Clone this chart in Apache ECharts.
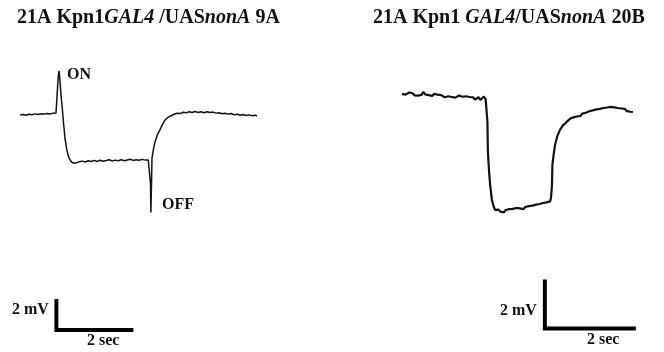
<!DOCTYPE html>
<html>
<head>
<meta charset="utf-8">
<script src="https://cdn.jsdelivr.net/npm/echarts@6/dist/echarts.min.js"></script>
<style>html,body{margin:0;padding:0;background:#fff}#c{width:664px;height:352px}</style>
</head>
<body>
<div id="c"></div>
<script>
// ---- Data (time in s, voltage in mV) ----
// Panel A: 21A Kpn1GAL4/UASnonA 9A
const leftT = [0,0.08,0.16,0.24,0.32,0.40,0.48,0.56,0.64,0.72,0.80,0.88,0.96,
  0.99,1.02,1.04,1.06,1.09,1.12,1.16,1.20,1.24,1.28,1.33,1.38,1.44,1.50,
  1.58,1.66,1.74,1.82,1.90,1.98,2.06,2.14,2.22,2.30,2.38,2.46,2.54,2.62,2.70,2.78,2.86,2.94,3.02,3.10,3.18,3.26,3.34,3.42,3.46,
  3.48,3.49,3.505,3.52,3.56,3.60,3.66,3.73,3.80,3.87,3.95,4.03,4.11,4.19,4.27,4.35,4.43,4.51,4.59,4.67,4.75,4.83,4.91,4.99,
  5.07,5.15,5.23,5.31,5.39,5.47,5.55,5.63,5.71,5.79,5.87,5.95,6.03,6.11,6.19,6.27,6.32];
const leftV = [-0.07,-0.03,-0.08,-0.02,-0.05,0.01,-0.04,0.02,-0.01,0.04,0.00,0.06,0.07,
  0.20,2.60,2.97,2.50,1.40,0.60,-0.60,-1.66,-2.35,-2.83,-3.15,-3.33,-3.40,-3.36,
  -3.30,-3.25,-3.31,-3.22,-3.28,-3.20,-3.27,-3.19,-3.26,-3.21,-3.15,-3.24,-3.18,-3.23,-3.16,-3.22,-3.17,-3.12,-3.20,-3.15,-3.19,-3.13,-3.18,-3.17,-3.20,
  -4.80,-6.80,-5.00,-3.03,-2.40,-1.93,-1.45,-1.10,-0.72,-0.41,-0.22,-0.12,-0.02,0.05,0.03,0.12,0.08,0.16,0.11,0.17,0.10,0.15,0.09,0.16,
  0.10,0.13,0.06,0.09,0.02,0.05,-0.01,0.03,-0.05,-0.02,-0.08,-0.03,-0.10,-0.06,-0.12,-0.09,-0.14];

// Panel B: 21A Kpn1GAL4/UASnonA 20B
const rightT = [0.00,0.04,0.08,0.12,0.16,0.20,0.24,0.28,0.32,0.36,0.40,0.44,0.48,0.52,0.56,0.60,0.64,0.68,0.72,0.76,0.80,0.84,0.88,0.92,0.96,
  1.00,1.04,1.08,1.12,1.16,1.20,1.24,1.28,1.32,1.36,1.40,1.44,1.48,1.52,1.56,1.60,1.64,1.68,1.72,1.76,1.80,1.84,1.88,1.90,
  1.92,1.93,1.96,1.98,2.02,2.06,
  2.09,2.13,2.17,2.21,2.25,2.29,2.33,2.37,2.41,2.45,2.49,2.53,2.57,2.61,2.65,2.69,2.73,2.77,2.81,2.85,2.89,2.93,2.97,3.01,3.05,3.09,3.13,3.17,3.21,3.25,3.29,3.33,
  3.35,3.37,3.38,3.41,3.44,3.49,3.55,3.62,3.67,3.71,3.75,3.79,3.83,3.87,3.90,
  3.93,3.97,4.01,4.05,4.09,4.13,4.17,4.21,4.25,4.29,4.33,4.37,4.41,4.45,4.49,4.53,4.57,4.61,4.65,4.69,4.73,4.77,4.81,4.85,4.89,4.93,4.97,5.01,5.05,5.09,5.13,5.17,5.19];
const rightV = [0.00,0.05,-0.03,0.02,0.06,-0.01,0.03,-0.06,-0.02,-0.07,0.01,-0.04,0.09,-0.02,0.04,-0.05,-0.01,-0.09,0.00,-0.06,-0.03,-0.11,-0.05,-0.08,-0.14,
  -0.06,-0.10,-0.04,-0.13,-0.09,-0.16,-0.11,-0.07,-0.15,-0.12,-0.19,-0.10,-0.17,-0.13,-0.21,-0.15,-0.24,-0.18,-0.14,-0.26,-0.19,-0.11,-0.23,-0.20,
  -1.20,-2.47,-3.40,-3.87,-4.51,-4.80,
  -4.94,-5.00,-4.93,-5.02,-4.97,-5.05,-4.95,-4.99,-4.91,-4.98,-4.90,-4.95,-4.86,-4.93,-4.88,-4.84,-4.91,-4.82,-4.87,-4.78,-4.84,-4.76,-4.81,-4.72,-4.78,-4.69,-4.74,-4.65,-4.71,-4.62,-4.67,-4.58,
  -4.40,-3.87,-3.02,-2.55,-2.17,-1.80,-1.53,-1.33,-1.26,-1.17,-1.12,-1.04,-1.08,-0.99,-1.01,
  -0.96,-0.91,-0.94,-0.84,-0.88,-0.80,-0.85,-0.74,-0.79,-0.70,-0.75,-0.66,-0.72,-0.64,-0.69,-0.60,-0.67,-0.58,-0.64,-0.55,-0.62,-0.57,-0.65,-0.60,-0.68,-0.62,-0.70,-0.64,-0.73,-0.68,-0.76,-0.72,-0.77];

// Scale bars: [time, mV] corner path (2 mV vertical, 2 s horizontal)
const leftScaleT = [0.97, 0.97, 2.97];
const leftScaleV = [-12.9, -14.9, -14.9];
const rightScaleT = [3.21, 3.21, 5.21];
const rightScaleV = [-8.0, -10.0, -10.0];

const titles = ['21A Kpn1{i|GAL4} /UAS{i|nonA} 9A', '21A Kpn1 {i|GAL4}/UAS{i|nonA} 20B'];
const scaleLabels = ['2 mV', '2 sec'];

const zip = (a, b) => a.map((x, i) => [x, b[i]]);

const chart = echarts.init(document.getElementById('c'), null, {renderer: 'canvas'});
const serif = '"Liberation Serif","Times New Roman",serif';
const tStyle = {
  fontFamily: serif, fontWeight: 'bold', fontSize: 20, color: '#111',
  rich: { i: { fontFamily: serif, fontWeight: 'bold', fontStyle: 'italic', fontSize: 20, color: '#111' } }
};
const lbl = (text, x, y) => ({
  type: 'text', left: x, top: y,
  style: { text, font: 'bold 16px ' + serif, fill: '#111' }
});

chart.setOption({
  animation: false,
  backgroundColor: '#fff',
  title: [
    { text: titles[0], left: 17, top: 8, textStyle: tStyle, padding: 0 },
    { text: titles[1], left: 373, top: 8, textStyle: tStyle, padding: 0 }
  ],
  grid: [
    { left: 20, top: 56, width: 240, height: 290 },
    { left: 402, top: 47, width: 240.3, height: 305.5 }
  ],
  xAxis: [
    { type: 'value', gridIndex: 0, min: 0, max: 6.4, show: false },
    { type: 'value', gridIndex: 1, min: 0, max: 5.4, show: false }
  ],
  yAxis: [
    { type: 'value', gridIndex: 0, min: -16, max: 4, show: false },
    { type: 'value', gridIndex: 1, min: -11, max: 2, show: false }
  ],
  series: [
    { type: 'line', xAxisIndex: 0, yAxisIndex: 0, data: zip(leftT, leftV), showSymbol: false, symbol: 'none',
      lineStyle: { color: '#111', width: 1.5 } },
    { type: 'line', xAxisIndex: 1, yAxisIndex: 1, data: zip(rightT, rightV), showSymbol: false, symbol: 'none',
      lineStyle: { color: '#111', width: 2.2 } },
    { type: 'line', xAxisIndex: 0, yAxisIndex: 0, data: zip(leftScaleT, leftScaleV), showSymbol: false, symbol: 'none',
      lineStyle: { color: '#000', width: 4, join: 'miter', cap: 'square' } },
    { type: 'line', xAxisIndex: 1, yAxisIndex: 1, data: zip(rightScaleT, rightScaleV), showSymbol: false, symbol: 'none',
      lineStyle: { color: '#000', width: 4, join: 'miter', cap: 'square' } }
  ],
  graphic: [
    lbl('ON', 67, 67),
    lbl('OFF', 162, 197),
    lbl(scaleLabels[0], 12, 302),
    lbl(scaleLabels[1], 87, 333),
    lbl(scaleLabels[0], 500, 303),
    lbl(scaleLabels[1], 587, 332)
  ]
});
</script>
</body>
</html>
